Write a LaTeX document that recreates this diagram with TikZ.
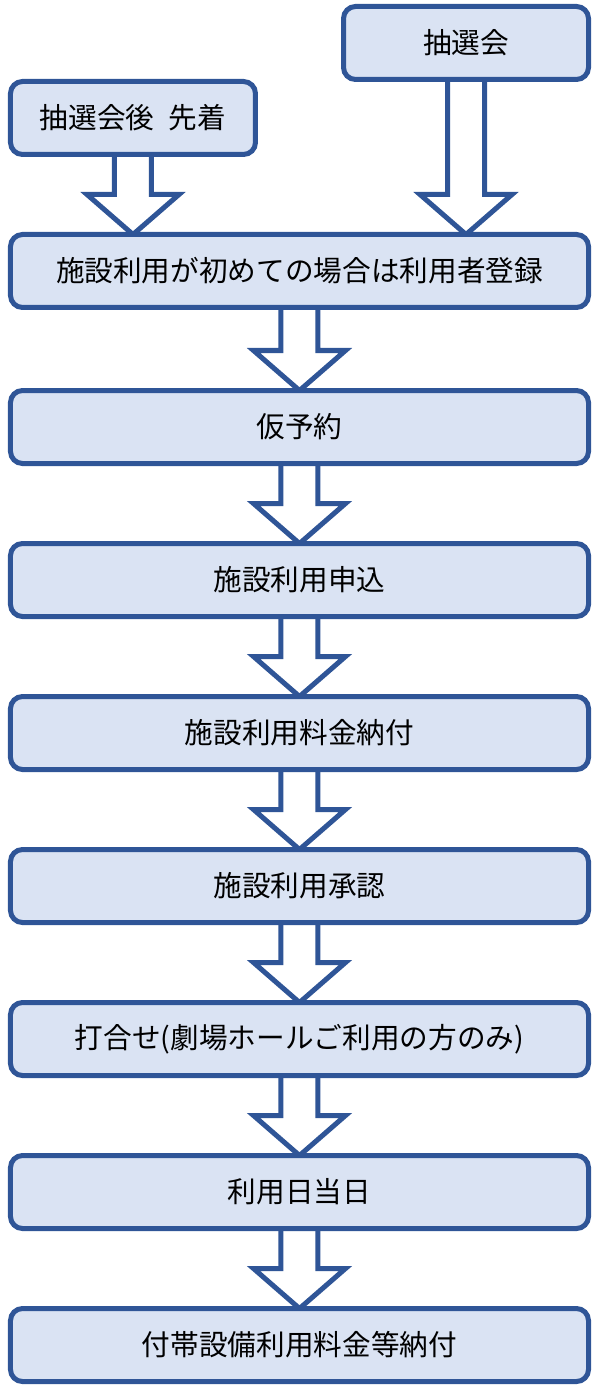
\documentclass[tikz,border=0pt]{standalone}
\usepackage{fontspec}
\setmainfont{Noto Sans CJK JP}
\usepackage{xcolor}
\usepackage{tikz}
\usetikzlibrary{positioning, calc, backgrounds}

\definecolor{boxline}{HTML}{2F5597}
\definecolor{boxfill}{HTML}{DAE3F3}

\tikzset{
  box/.style={draw=boxline, fill=boxfill, line width=0.1cm, rounded corners=0.24cm,
    minimum width=11.56cm, minimum height=1.46cm, inner sep=0pt,
    font=\fontsize{16.3}{19}\selectfont},
  topbox/.style={box, minimum width=4.9cm},
  bigarrow/.style={draw=boxline, fill=white, line width=0.1cm, line join=miter}
}

% hollow block arrow from the bottom of #1 down to the top of #2
\newcommand{\flowarrow}[2]{%
  \coordinate (s) at (#1.south);
  \coordinate (t) at ($(#1.south |- #2.north)+(0,-0.05)$);
  \draw[bigarrow] ($(s)+(-0.37,0.1)$) -- ($(t)+(-0.37,0.8)$) -- ($(t)+(-0.92,0.8)$)
    -- (t) -- ($(t)+(0.92,0.8)$) -- ($(t)+(0.37,0.8)$) -- ($(s)+(0.37,0.1)$);}

\begin{document}
\begin{tikzpicture}[node distance=1.5cm]
		\useasboundingbox (-5.99,5.42) rectangle (6.01,-22.32);

		% Steps
		\node[box] (register) at (0,0) {施設利用が初めての場合は利用者登録};
		\node[topbox, above right=1.5cm and 0cm of register.north west, anchor=south west] (firstcome) {抽選会後\hspace{0.5em}先着};
		\node[topbox, above left=3cm and 0cm of register.north east, anchor=south east] (lottery) {抽選会};
		\node[box, below=1.56cm of register] (provisional) {仮予約};
		\node[box, below=of provisional] (apply) {施設利用申込};
		\node[box, below=of apply] (payfee) {施設利用料金納付};
		\node[box, below=of payfee] (approval) {施設利用承認};
		\node[box, below=of approval] (meeting) {打合せ(劇場ホールご利用の方のみ)};
		\node[box, below=of meeting] (useday) {利用日当日};
		\node[box, below=of useday] (extrafee) {付帯設備利用料金等納付};

		% Arrows
		\begin{scope}[on background layer]
			\flowarrow{firstcome}{register}
			\flowarrow{lottery}{register}
			\flowarrow{register}{provisional}
			\flowarrow{provisional}{apply}
			\flowarrow{apply}{payfee}
			\flowarrow{payfee}{approval}
			\flowarrow{approval}{meeting}
			\flowarrow{meeting}{useday}
			\flowarrow{useday}{extrafee}
		\end{scope}
	\end{tikzpicture}
\end{document}
